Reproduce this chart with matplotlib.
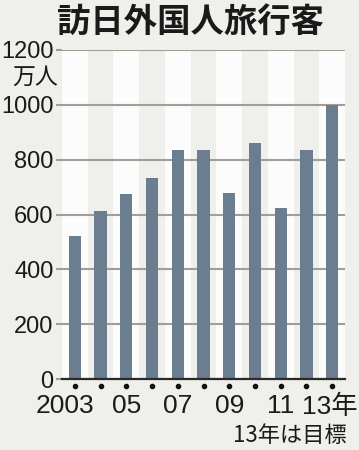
import matplotlib
matplotlib.use('Agg')
import matplotlib.pyplot as plt
from matplotlib.transforms import ScaledTranslation
import numpy as np

# data (万人), 2013 is the target
years = [2003, 2004, 2005, 2006, 2007, 2008, 2009, 2010, 2011, 2012, 2013]
visitors = [521, 614, 673, 733, 835, 835, 679, 861, 622, 836, 1000]
year_labels = ['2003', '05', '07', '09', '11', '13年']
y_ticks = [0, 200, 400, 600, 800, 1000, 1200]

bg = '#efefeb'
bar_color = '#6a7e90'
grid_color = '#a39e95'
num_font = ['Liberation Sans Narrow', 'Liberation Sans', 'Noto Sans CJK JP']
jp_font = ['Noto Sans CJK JP', 'DejaVu Sans']

fig = plt.figure(figsize=(3.59, 4.5), dpi=100, facecolor=bg)
ax = fig.add_axes([62 / 359, 1 - 379 / 450, 283 / 359, 329 / 450])
ax.set_facecolor('#fcfcfc')

x = np.arange(len(years))

# alternating column stripes
for i in x:
    if i % 2 == 1:
        ax.axvspan(i - 0.5, i + 0.5, color=bg, lw=0, zorder=0)

ax.bar(x, visitors, width=0.48, color=bar_color, zorder=3)

ax.set_xlim(-0.5, len(years) - 0.5)
ax.set_ylim(0, 1200)
ax.set_yticks(y_ticks)
ax.set_yticklabels([str(v) for v in y_ticks], family=num_font, fontsize=17, color='#1a1a1a')
ax.yaxis.grid(True, color=grid_color, lw=1.5, zorder=1)
ax.set_axisbelow(True)
ax.tick_params(axis='y', length=4, width=1.5, color=grid_color, pad=2)

for s in ['top', 'right', 'left']:
    ax.spines[s].set_visible(False)
ax.spines['bottom'].set_color('#2a2a2a')
ax.spines['bottom'].set_linewidth(1.6)
ax.spines['bottom'].set_zorder(4)

# year labels every other year
ax.set_xticks(x[::2])
ax.set_xticklabels(year_labels, family=num_font, fontsize=19, color='#1a1a1a')
ax.tick_params(axis='x', length=0, pad=11)
first = ax.get_xticklabels()[0]
first.set_transform(first.get_transform() + ScaledTranslation(-0.1, 0, fig.dpi_scale_trans))
last = ax.get_xticklabels()[-1]
last.set_transform(last.get_transform() + ScaledTranslation(-0.02, 0, fig.dpi_scale_trans))

# dots under each bar
dot_tr = ax.get_xaxis_transform()
ax.plot(x, [-0.022] * len(x), 'o', color='#111111', ms=3, transform=dot_tr, clip_on=False)

fig.text(0.53, 0.951, '訪日外国人旅行客', family=jp_font, fontsize=24, fontweight='bold',
         ha='center', va='center', color='#1a1a1a')
fig.text(58 / 359, 1 - 77 / 450, '万人', family=jp_font, fontsize=16.5,
         ha='right', va='center', color='#1a1a1a')
fig.text(347 / 359, 1 - 436 / 450, '13年は目標', family=jp_font, fontsize=16,
         ha='right', va='center', color='#1a1a1a')

fig.savefig('out.png', dpi=100, facecolor=bg)
